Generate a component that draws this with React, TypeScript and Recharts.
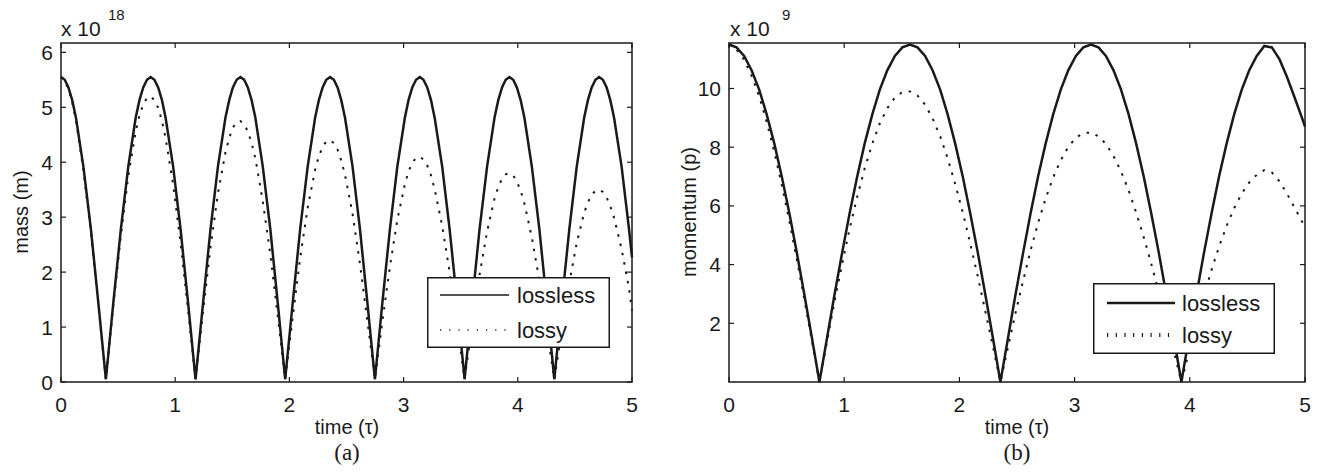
import React from 'react'
import { LineChart, Line, XAxis, YAxis, ReferenceArea } from 'recharts'

// panel (a): time (tau), denser around the peaks
const timeA = [
  0, 0.033, 0.065, 0.098, 0.131, 0.196, 0.262, 0.327, 0.393, 0.458, 0.524, 0.589, 0.654,
  0.687, 0.72, 0.753, 0.785, 0.818, 0.851, 0.884, 0.916, 0.982, 1.047, 1.113, 1.178,
  1.244, 1.309, 1.374, 1.44, 1.473, 1.505, 1.538, 1.571, 1.604, 1.636, 1.669, 1.702,
  1.767, 1.833, 1.898, 1.963, 2.029, 2.094, 2.16, 2.225, 2.258, 2.291, 2.323, 2.356,
  2.389, 2.422, 2.454, 2.487, 2.553, 2.618, 2.683, 2.749, 2.814, 2.88, 2.945, 3.011,
  3.043, 3.076, 3.109, 3.142, 3.174, 3.207, 3.24, 3.272, 3.338, 3.403, 3.469, 3.534,
  3.6, 3.665, 3.731, 3.796, 3.829, 3.862, 3.894, 3.927, 3.96, 3.992, 4.025, 4.058,
  4.123, 4.189, 4.254, 4.32, 4.385, 4.451, 4.516, 4.581, 4.614, 4.647, 4.68, 4.712,
  4.745, 4.778, 4.81, 4.843, 4.909, 4.974, 5.0,
]

// mass, x 10^18
const massLossless = [
  5.55, 5.5, 5.36, 5.13, 4.81, 3.92, 2.78, 1.44, 0.05, 1.44, 2.78, 3.92, 4.81,
  5.13, 5.36, 5.5, 5.55, 5.5, 5.36, 5.13, 4.81, 3.92, 2.78, 1.44, 0.05,
  1.44, 2.78, 3.92, 4.81, 5.13, 5.36, 5.5, 5.55, 5.5, 5.36, 5.13, 4.81,
  3.92, 2.78, 1.44, 0.05, 1.44, 2.78, 3.92, 4.81, 5.13, 5.36, 5.5, 5.55,
  5.5, 5.36, 5.13, 4.81, 3.92, 2.78, 1.44, 0.05, 1.44, 2.78, 3.92, 4.81,
  5.13, 5.36, 5.5, 5.55, 5.5, 5.36, 5.13, 4.81, 3.92, 2.78, 1.44, 0.05,
  1.44, 2.78, 3.92, 4.81, 5.13, 5.36, 5.5, 5.55, 5.5, 5.36, 5.13, 4.81,
  3.92, 2.78, 1.44, 0.05, 1.44, 2.78, 3.92, 4.81, 5.13, 5.36, 5.5, 5.55,
  5.5, 5.36, 5.13, 4.81, 3.92, 2.78, 2.27,
]
const massLossy = [
  5.55, 5.49, 5.33, 5.09, 4.76, 3.86, 2.72, 1.4, 0.05, 1.39, 2.66, 3.74, 4.56,
  4.85, 5.05, 5.17, 5.2, 5.13, 4.99, 4.75, 4.44, 3.59, 2.53, 1.3, 0.05,
  1.28, 2.45, 3.43, 4.18, 4.44, 4.63, 4.73, 4.75, 4.69, 4.56, 4.35, 4.07,
  3.29, 2.32, 1.2, 0.05, 1.18, 2.26, 3.17, 3.86, 4.11, 4.28, 4.38, 4.4,
  4.35, 4.23, 4.03, 3.77, 3.06, 2.15, 1.11, 0.05, 1.1, 2.1, 2.95, 3.6,
  3.83, 3.99, 4.08, 4.1, 4.05, 3.94, 3.76, 3.51, 2.84, 2.0, 1.03, 0.05,
  1.02, 1.95, 2.74, 3.34, 3.55, 3.7, 3.78, 3.8, 3.76, 3.65, 3.48, 3.25,
  2.63, 1.85, 0.95, 0.05, 0.94, 1.8, 2.53, 3.08, 3.27, 3.41, 3.48, 3.5,
  3.46, 3.36, 3.2, 2.99, 2.42, 1.7, 1.3,
]

// panel (b): time (tau)
const timeB = [
  0, 0.065, 0.131, 0.196, 0.262, 0.327, 0.393, 0.458, 0.524, 0.589, 0.654, 0.72, 0.785,
  0.851, 0.916, 0.982, 1.047, 1.113, 1.178, 1.244, 1.309, 1.374, 1.44, 1.505, 1.571,
  1.636, 1.702, 1.767, 1.833, 1.898, 1.963, 2.029, 2.094, 2.16, 2.225, 2.291, 2.356,
  2.422, 2.487, 2.553, 2.618, 2.683, 2.749, 2.814, 2.88, 2.945, 3.011, 3.076, 3.142,
  3.207, 3.272, 3.338, 3.403, 3.469, 3.534, 3.6, 3.665, 3.731, 3.796, 3.862, 3.927,
  3.992, 4.058, 4.123, 4.189, 4.254, 4.32, 4.385, 4.451, 4.516, 4.581, 4.647, 4.712,
  4.778, 4.843, 4.909, 4.974, 5.0,
]

// momentum, x 10^9
const momentumLossless = [
  11.5, 11.4, 11.11, 10.62, 9.96, 9.12, 8.13, 7.0, 5.75, 4.4, 2.98, 1.5,
  0, 1.5, 2.98, 4.4, 5.75, 7.0, 8.13, 9.12, 9.96, 10.62, 11.11, 11.4,
  11.5, 11.4, 11.11, 10.62, 9.96, 9.12, 8.13, 7.0, 5.75, 4.4, 2.98, 1.5,
  0, 1.5, 2.98, 4.4, 5.75, 7.0, 8.13, 9.12, 9.96, 10.62, 11.11, 11.4,
  11.5, 11.4, 11.11, 10.62, 9.96, 9.12, 8.13, 7.0, 5.75, 4.4, 2.98, 1.5,
  0, 1.5, 2.98, 4.4, 5.75, 7.0, 8.13, 9.12, 9.96,
  10.62, 11.11, 11.45, 11.4, 11.0, 10.4, 9.7, 9.0, 8.7,
]
const momentumLossy = [
  11.5, 11.33, 10.98, 10.44, 9.73, 8.86, 7.85, 6.72, 5.48, 4.17, 2.81, 1.4,
  0, 1.39, 2.74, 4.02, 5.22, 6.31, 7.28, 8.12, 8.81, 9.33, 9.69, 9.88, 9.9,
  9.76, 9.45, 8.98, 8.37, 7.62, 6.75, 5.78, 4.72, 3.59, 2.41, 1.21,
  0, 1.19, 2.35, 3.45, 4.48, 5.42, 6.26, 6.97, 7.56, 8.01, 8.32, 8.48, 8.5,
  8.37, 8.11, 7.7, 7.17, 6.53, 5.78, 4.94, 4.03, 3.07, 2.06, 1.03,
  0, 1.02, 2.01, 2.94, 3.82, 4.61, 5.32, 5.92, 6.42, 6.8, 7.06, 7.22, 7.14,
  6.84, 6.42, 5.94, 5.47, 5.28,
]

const timeTicks = [0, 1, 2, 3, 4, 5]
const massTicks = [0, 1, 2, 3, 4, 5, 6]
const momentumTicks = [2, 4, 6, 8, 10]

const INK = '#1a1a1a'
const SANS = '"Liberation Sans", Arial, Helvetica, sans-serif'
const SERIF = '"Liberation Serif", "Times New Roman", serif'
const TOP = 43
const BOTTOM = 382
const TICK = 5

function makeXTick() {
  return (props: any) => {
    const { x, payload } = props
    return (
      <g>
        <line x1={x} x2={x} y1={BOTTOM} y2={BOTTOM - TICK} stroke={INK} strokeWidth={1.2} />
        <line x1={x} x2={x} y1={TOP} y2={TOP + TICK} stroke={INK} strokeWidth={1.2} />
        <text x={x} y={BOTTOM + 22} textAnchor="middle" dominantBaseline="central"
          fontFamily={SANS} fontSize={21} fill={INK}>
          {payload.value}
        </text>
      </g>
    )
  }
}

function makeYTick(plotLeft: number, plotRight: number) {
  return (props: any) => {
    const { y, payload } = props
    return (
      <g>
        <line x1={plotLeft} x2={plotLeft + TICK} y1={y} y2={y} stroke={INK} strokeWidth={1.2} />
        <line x1={plotRight} x2={plotRight - TICK} y1={y} y2={y} stroke={INK} strokeWidth={1.2} />
        <text x={plotLeft - 8} y={y} textAnchor="end" dominantBaseline="central"
          fontFamily={SANS} fontSize={21} fill={INK}>
          {payload.value}
        </text>
      </g>
    )
  }
}

interface PanelProps {
  left: number
  width: number
  marginLeft: number
  marginRight: number
  time: number[]
  lossless: number[]
  lossy: number[]
  yMax: number
  yTicks: number[]
}

function Panel({ left, width, marginLeft, marginRight, time, lossless, lossy, yMax, yTicks }: PanelProps) {
  const rows = time.map((t, i) => ({ t, lossless: lossless[i], lossy: lossy[i] }))
  const yAxisWidth = 50
  const plotLeft = marginLeft + yAxisWidth
  const plotRight = width - marginRight
  return (
    <div style={{ position: 'absolute', left, top: 0 }}>
      <LineChart
        width={width}
        height={472}
        data={rows}
        margin={{ top: TOP, right: marginRight, bottom: 60, left: marginLeft }}
      >
        <XAxis
          type="number"
          dataKey="t"
          domain={[0, 5]}
          ticks={timeTicks}
          interval={0}
          axisLine={false}
          tickLine={false}
          height={30}
          tick={makeXTick()}
        />
        <YAxis
          type="number"
          domain={[0, yMax]}
          ticks={yTicks}
          interval={0}
          axisLine={false}
          tickLine={false}
          width={yAxisWidth}
          tick={makeYTick(plotLeft, plotRight)}
        />
        <Line type="linear" dataKey="lossless" stroke={INK} strokeWidth={2.5}
          dot={false} isAnimationActive={false} />
        <Line type="linear" dataKey="lossy" stroke={INK} strokeWidth={2}
          strokeDasharray="2.5 7" dot={false} isAnimationActive={false} />
        <ReferenceArea x1={0} x2={5} y1={0} y2={yMax} fill="none" fillOpacity={0}
          stroke={INK} strokeWidth={1.5} ifOverflow="visible" />
      </LineChart>
    </div>
  )
}

function Txt({ x, y, size, children, rotate, serif, anchor }: any) {
  const tx = anchor === 'start' ? '0' : '-50%'
  return (
    <div
      style={{
        position: 'absolute',
        left: x,
        top: y,
        transform: `translate(${tx}, -50%)${rotate ? ' rotate(-90deg)' : ''}`,
        fontSize: size,
        lineHeight: 1,
        whiteSpace: 'nowrap',
        fontFamily: serif ? SERIF : SANS,
        color: INK,
      }}
    >
      {children}
    </div>
  )
}

function LegendBox({ left, top, width, height, rowA, rowB, lineX1, lineX2, textX, solidWidth, lossyDash, lossyWidth }: any) {
  return (
    <svg style={{ position: 'absolute', left, top }} width={width} height={height}>
      <rect x={0.75} y={0.75} width={width - 1.5} height={height - 1.5} fill="#fff" stroke={INK} strokeWidth={1.5} />
      <line x1={lineX1} x2={lineX2} y1={rowA} y2={rowA} stroke={INK} strokeWidth={solidWidth} />
      <text x={textX} y={rowA} dominantBaseline="central" fontFamily={SANS} fontSize={22} fill={INK}>lossless</text>
      <line x1={lineX1} x2={lineX2} y1={rowB} y2={rowB} stroke={INK} strokeWidth={lossyWidth} strokeDasharray={lossyDash} />
      <text x={textX} y={rowB} dominantBaseline="central" fontFamily={SANS} fontSize={22} fill={INK}>lossy</text>
    </svg>
  )
}

export default function App() {
  return (
    <div style={{ position: 'absolute', left: 0, top: 0, width: 1327, height: 472, background: '#fff', overflow: 'hidden' }}>
      <Panel left={0} width={660} marginLeft={11} marginRight={28} time={timeA}
        lossless={massLossless} lossy={massLossy} yMax={6.17} yTicks={massTicks} />
      <Panel left={664} width={663} marginLeft={15} marginRight={22} time={timeB}
        lossless={momentumLossless} lossy={momentumLossy} yMax={11.55} yTicks={momentumTicks} />

      {/* panel (a) texts */}
      <Txt x={61} y={28} size={21} anchor="start">x 10</Txt>
      <Txt x={108} y={14} size={15} anchor="start">18</Txt>
      <Txt x={21} y={212} size={20} rotate>mass (m)</Txt>
      <Txt x={347} y={427} size={20}>time (τ)</Txt>
      <Txt x={347} y={452} size={23} serif>(a)</Txt>
      <LegendBox left={427} top={277} width={183} height={71} rowA={18} rowB={53}
        lineX1={13} lineX2={82} textX={90} solidWidth={1.3} lossyDash="1.2 8" lossyWidth={1.3} />

      {/* panel (b) texts */}
      <Txt x={730} y={28} size={21} anchor="start">x 10</Txt>
      <Txt x={782} y={14} size={15} anchor="start">9</Txt>
      <Txt x={689} y={212} size={20} rotate>momentum (p)</Txt>
      <Txt x={1017} y={427} size={20}>time (τ)</Txt>
      <Txt x={1017} y={452} size={23} serif>(b)</Txt>
      <LegendBox left={1093} top={283} width={182} height={71} rowA={20} rowB={52}
        lineX1={14} lineX2={82} textX={89} solidWidth={2.5} lossyDash="1.2 7.5" lossyWidth={4} />
    </div>
  )
}
